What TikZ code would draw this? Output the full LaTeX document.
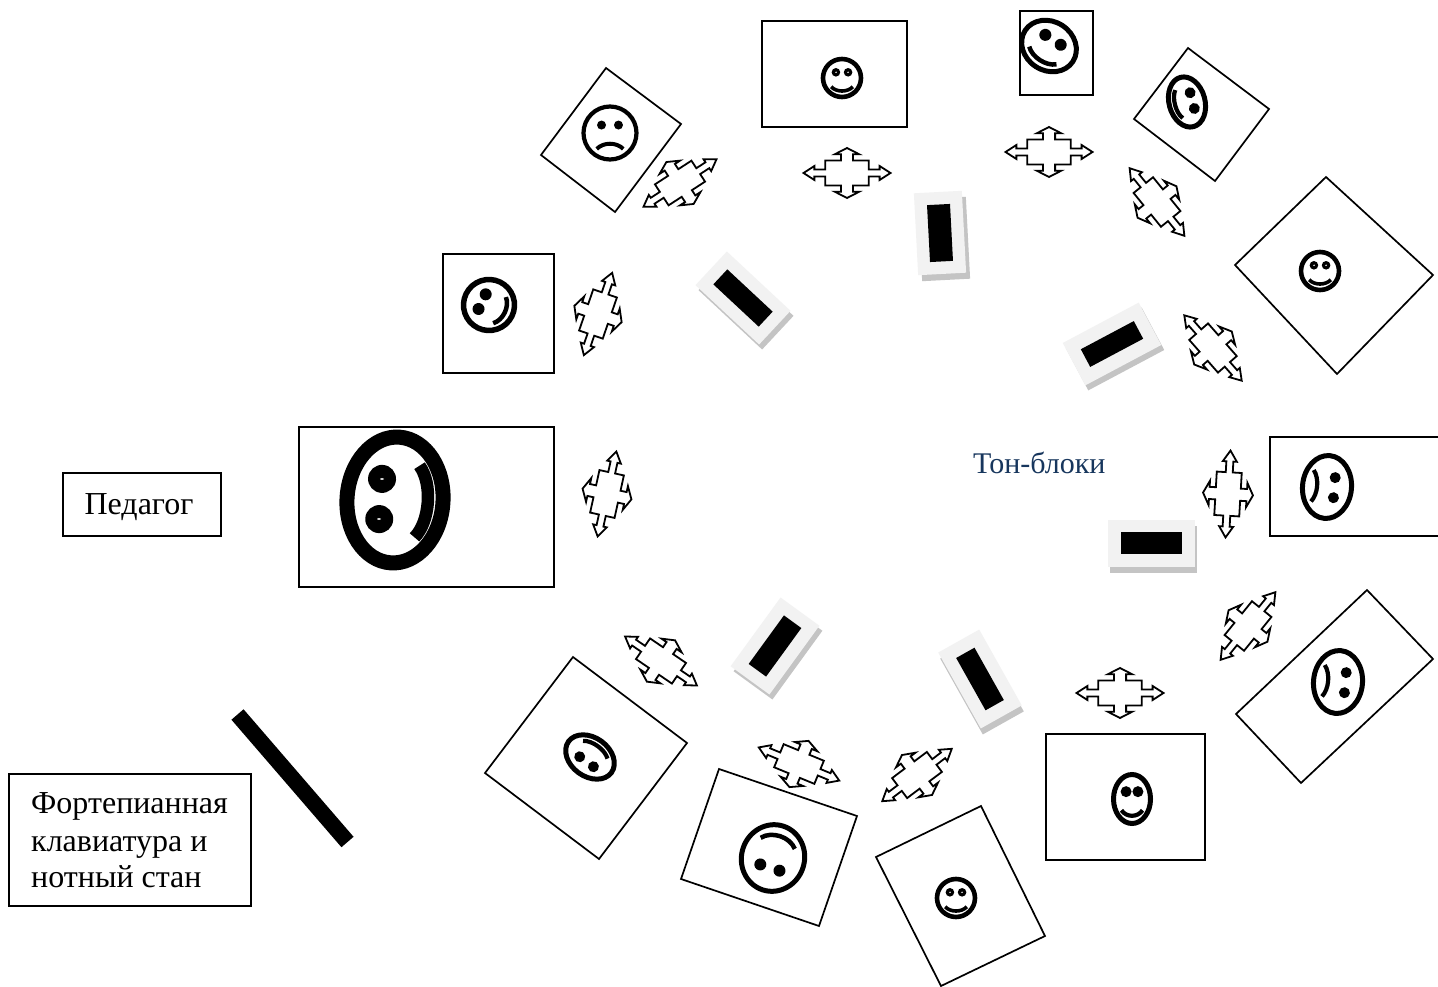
\documentclass[tikz,border=0pt]{standalone}
\usepackage{fontspec}
\setmainfont{Liberation Serif}
\definecolor{toneface}{HTML}{F2F2F2}
\definecolor{toneshadow}{HTML}{C4C4C4}
\definecolor{labelblue}{HTML}{17365D}
\tikzset{
  frame/.style={draw=black,line width=1.7pt,fill=white,line join=miter},
  labelbox/.style={draw=black,line width=1.7pt,fill=white,rectangle,inner sep=0pt},
  labeltext/.style={font=\fontsize{32}{37}\selectfont,inner sep=0pt},
  quadarrow/.style={draw=black,line width=1.8pt,fill=white,line join=miter,miter limit=6},
  facering/.style={draw=black,fill=white},
}
% \quadarr{cx}{cy}{rot}
\newcommand{\quadarr}[3]{%
  \begin{scope}[shift={(#1,#2)},rotate=#3,x=43.5pt,y=25pt]
    \path[quadarrow] (1,0)--(.75,.28)--(.75,.14)--(.5,.14)--(.5,.5)--(.14,.5)--(.14,.75)--(.28,.75)--(0,1)--(-.28,.75)--(-.14,.75)--(-.14,.5)--(-.5,.5)--(-.5,.14)--(-.75,.14)--(-.75,.28)--(-1,0)--(-.75,-.28)--(-.75,-.14)--(-.5,-.14)--(-.5,-.5)--(-.14,-.5)--(-.14,-.75)--(-.28,-.75)--(0,-1)--(.28,-.75)--(.14,-.75)--(.14,-.5)--(.5,-.5)--(.5,-.14)--(.75,-.14)--(.75,-.28)--cycle;
  \end{scope}}
% \smileface{cx}{cy}{rot}{rx}{ry}{ring lw}{eye r}{mouth lw}
\newcommand{\smileface}[8]{%
  \begin{scope}[shift={(#1,#2)},rotate=#3,x=#4pt,y=-#5pt]
    \draw[facering,line width=#6pt] (0,0) ellipse [x radius=#4pt,y radius=#5pt];
    \fill (-.32,-.3) circle [radius=#7pt];
    \fill (.32,-.3) circle [radius=#7pt];
    \draw[line width=#8pt] (-.57,.46) .. controls (-.3,.76) and (.3,.76) .. (.57,.46);
  \end{scope}}
\newcommand{\sadface}[8]{%
  \begin{scope}[shift={(#1,#2)},rotate=#3,x=#4pt,y=-#5pt]
    \draw[facering,line width=#6pt] (0,0) ellipse [x radius=#4pt,y radius=#5pt];
    \fill (-.32,-.3) circle [radius=#7pt];
    \fill (.32,-.3) circle [radius=#7pt];
    \draw[line width=#8pt] (-.5,.6) .. controls (-.25,.34) and (.25,.34) .. (.5,.6);
  \end{scope}}
% \toneblock{cx}{cy}{rot}{dx}{dy}{w}{h}{inner w}{inner h}
\newcommand{\toneblock}[9]{%
  \begin{scope}[shift={(#1+#4,#2+#5)},rotate=#3]
    \fill[toneshadow] (-#6/2,-#7/2) rectangle (#6/2,#7/2);
  \end{scope}
  \begin{scope}[shift={(#1,#2)},rotate=#3]
    \fill[toneface] (-#6/2,-#7/2) rectangle (#6/2,#7/2);
    \fill[black] (-#8/2,-#9/2) rectangle (#8/2,#9/2);
  \end{scope}}
\begin{document}
\begin{tikzpicture}[x=1pt,y=-1pt]
\useasboundingbox (0,0) rectangle (1438,987);
\fill[white] (0,0) rectangle (1438,987);
% label boxes
\node[labelbox,minimum width=158pt,minimum height=63pt] (teacherbox) at (142,504.5) {};
\node[labeltext,anchor=base] (teacher) at (139,514) {Педагог};
\node[labelbox,minimum width=242pt,minimum height=132pt] (keysbox) at (130,840) {};
\node[labeltext,anchor=base west] (keys1) at (31,813) {Фортепианная};
\node[labeltext,anchor=base west] (keys2) at (31,851) {клавиатура и};
\node[labeltext,anchor=base west] (keys3) at (31,887) {нотный стан};
\node[labeltext,anchor=base west,text=labelblue,font=\fontsize{30}{35}\selectfont] (tones) at (973,473) {Тон-блоки};
% keyboard bar
\coordinate (bar1) at (237.5,714.5);
\coordinate (bar2) at (347.5,842);
\draw[line width=16pt] (bar1) -- (bar2);
% frames
\path[frame] (606,68)--(681,124)--(615,212)--(541,155)--cycle;
\path[frame] (762,21) rectangle (907,127);
\path[frame] (1020,11) rectangle (1093,95);
\path[frame] (1188,48)--(1269,109)--(1215,181)--(1134,119)--cycle;
\path[frame] (1326,177)--(1433,275)--(1337,374)--(1235,265)--cycle;
\path[frame] (443,254) rectangle (554,373);
\path[frame] (299,427) rectangle (554,587);
\path[frame] (1438,437)--(1270,437)--(1270,536)--(1438,536);
\path[frame] (1367,590)--(1433,659)--(1301,783)--(1236,714)--cycle;
\path[frame] (1046,734) rectangle (1205,860);
\path[frame] (981,806)--(1045,936)--(941,986)--(876,857)--cycle;
\path[frame] (719,769)--(857,816)--(819,926)--(681,879)--cycle;
\path[frame] (573,657)--(687,743)--(599,859)--(485,773)--cycle;
% faces
\sadface{610}{133}{0}{26.5}{26.5}{4.2}{4.5}{4}
\smileface{842}{78}{0}{19}{19}{4.6}{4.3}{3.6}
\smileface{1049}{46}{-33}{28.5}{24.5}{5}{6}{4.5}
\smileface{1187}{102}{-75}{25.5}{18}{5}{5.5}{4.2}
\smileface{1320}{271}{0}{19}{19}{4.6}{4.3}{3.6}
\smileface{489}{305}{64}{25.5}{25.5}{5.5}{6}{4.5}
\smileface{395}{500}{86}{63}{48}{15}{14}{12.5}
\sadface{1327}{487}{-95}{31.5}{24.5}{5}{5.5}{4.2}
\sadface{1338}{682}{-95}{31.5}{24.5}{5}{5.5}{4.2}
\smileface{1132}{799}{0}{18.5}{24.5}{5}{5.5}{4.2}
\smileface{956}{898}{0}{19}{19}{4.6}{4.3}{3.6}
\smileface{773}{858}{162}{31.5}{33.5}{5}{6}{4.5}
\smileface{590}{757}{144}{26.5}{19.5}{5}{5.5}{4.2}
% small highlights in the eyes
\fill[white] (382,479) ellipse [x radius=2pt,y radius=0.8pt];
\fill[white] (379,519) ellipse [x radius=2pt,y radius=0.8pt];
\fill[white] (836,72.3) circle [radius=0.8pt];
\fill[white] (848,72.3) circle [radius=0.8pt];
\fill[white] (1314,265.3) circle [radius=0.8pt];
\fill[white] (1326,265.3) circle [radius=0.8pt];
\fill[white] (950,892.3) circle [radius=0.8pt];
\fill[white] (962,892.3) circle [radius=0.8pt];
% tone blocks
\toneblock{743}{298}{-43}{3}{5}{87}{46}{62}{20.5}
\toneblock{940}{233}{93}{4}{6}{82}{48}{57}{23}
\toneblock{1112}{344}{28}{3}{5}{86}{48}{60}{20}
\toneblock{1151}{543}{0}{2.5}{6}{87}{47}{61}{22}
\toneblock{775}{646}{54}{3}{5}{85}{48}{60}{21.5}
\toneblock{980}{679}{-60.7}{2}{6}{87}{47}{60}{21}
% double-headed cross arrows
\quadarr{680}{183}{33}
\quadarr{598}{314}{71}
\quadarr{607}{494}{77.6}
\quadarr{847}{173}{0}
\quadarr{1049}{152}{0}
\quadarr{1157}{202}{-51}
\quadarr{1213}{348}{-48.7}
\quadarr{1228}{494}{86.7}
\quadarr{1248}{626}{51}
\quadarr{1120}{693}{0}
\quadarr{917}{775}{37}
\quadarr{799}{764}{-22.4}
\quadarr{661}{661}{-34.3}
\end{tikzpicture}
\end{document}
